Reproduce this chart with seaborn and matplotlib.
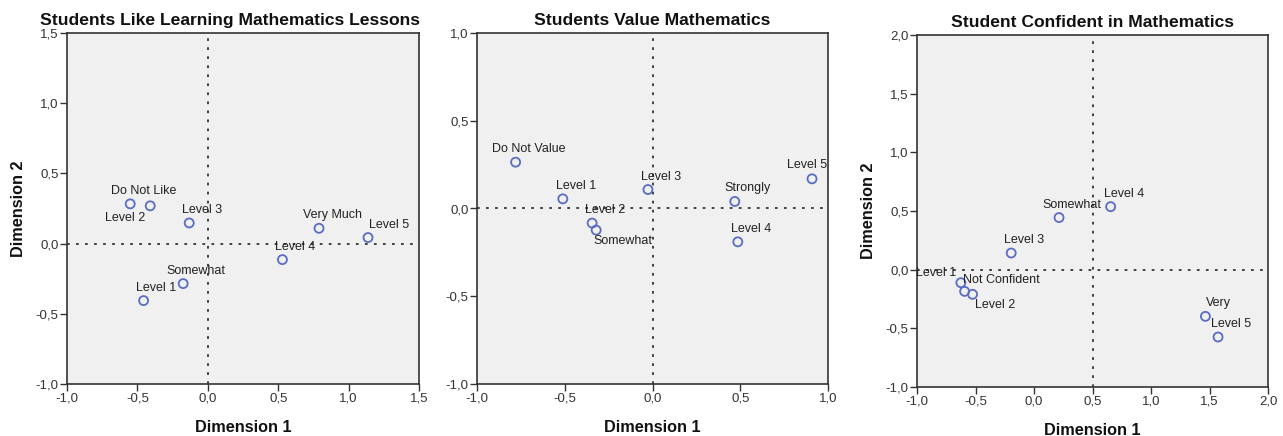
import matplotlib
matplotlib.use("Agg")
import matplotlib.pyplot as plt
import matplotlib.ticker as mticker
import seaborn as sns
import pandas as pd

# ---- data ----
titles = ["Students Like Learning Mathematics Lessons",
          "Students Value Mathematics",
          "Student Confident in Mathematics"]

labels_like = ["Level 2", "Do Not Like", "Level 3", "Somewhat", "Level 1",
               "Level 4", "Very Much", "Level 5"]
dim1_like = [-0.551, -0.409, -0.132, -0.175, -0.456, 0.530, 0.790, 1.138]
dim2_like = [0.283, 0.269, 0.147, -0.285, -0.406, -0.114, 0.109, 0.043]

labels_value = ["Do Not Value", "Level 1", "Level 3", "Level 2", "Somewhat",
                "Strongly", "Level 4", "Level 5"]
dim1_value = [-0.780, -0.511, -0.026, -0.344, -0.321, 0.469, 0.486, 0.909]
dim2_value = [0.264, 0.055, 0.108, -0.083, -0.123, 0.040, -0.190, 0.169]

labels_conf = ["Level 1", "Not Confident", "Level 2", "Level 3", "Somewhat",
               "Level 4", "Very", "Level 5"]
dim1_conf = [-0.625, -0.593, -0.525, -0.195, 0.214, 0.655, 1.465, 1.573]
dim2_conf = [-0.111, -0.185, -0.210, 0.142, 0.444, 0.537, -0.398, -0.574]

xlims = [(-1.0, 1.5), (-1.0, 1.0), (-1.0, 2.0)]
ylims = [(-1.0, 1.5), (-1.0, 1.0), (-1.0, 2.0)]
ref_x = [0.0, 0.0, 0.5]
ref_y = [0.0, 0.0, 0.0]

# ---- style: label offsets in pixels (dx right, dy up) ----
default_off = (13, 13)
special_off = [
    {"Level 2": (-5, -14), "Do Not Like": (-7, 15), "Level 5": (21, 13)},
    {"Somewhat": (27, -11), "Level 5": (-5, 14)},
    {"Level 1": (-25, 10), "Not Confident": (37, 11), "Level 2": (23, -11)},
]
title_x = [0.463, 0.5, 0.5]

sns.set_theme(style="white")
plt.rcParams["font.family"] = ["Liberation Sans", "DejaVu Sans"]

W, H = 1283, 436
fig = plt.figure(figsize=(W / 100, H / 100), dpi=100)
fig.patch.set_facecolor("white")

boxes = [(67, 33, 419, 384), (477, 33, 828, 384), (917, 35, 1268, 387)]
datasets = [(labels_like, dim1_like, dim2_like),
            (labels_value, dim1_value, dim2_value),
            (labels_conf, dim1_conf, dim2_conf)]

px2pt = 72 / 100

for i, ((l, t, r, b), (labs, xs, ys)) in enumerate(zip(boxes, datasets)):
    ax = fig.add_axes([l / W, (H - b) / H, (r - l) / W, (b - t) / H])
    ax.set_facecolor("#f0f0f0")
    df = pd.DataFrame({"Dimension 1": xs, "Dimension 2": ys, "label": labs})
    ax.axvline(ref_x[i], color="#333333", lw=1.3, ls=(0, (1.5, 3.5)), zorder=1)
    ax.axhline(ref_y[i], color="#333333", lw=1.3, ls=(0, (1.5, 3.5)), zorder=1)
    sns.scatterplot(data=df, x="Dimension 1", y="Dimension 2", ax=ax,
                    marker="o", s=42, facecolors="none",
                    edgecolor="#5a6cc4", linewidth=1.3, zorder=3)
    for lab, x, y in zip(labs, xs, ys):
        dx, dy = special_off[i].get(lab, default_off)
        ax.annotate(lab, (x, y), xytext=(dx * px2pt, dy * px2pt),
                    textcoords="offset points", ha="center", va="center",
                    fontsize=9, color="#222222", zorder=4)
    ax.set_xlim(*xlims[i])
    ax.set_ylim(*ylims[i])
    ax.xaxis.set_major_locator(mticker.MultipleLocator(0.5))
    ax.yaxis.set_major_locator(mticker.MultipleLocator(0.5))
    fmt = mticker.FuncFormatter(lambda v, p: f"{v:.1f}".replace(".", ","))
    ax.xaxis.set_major_formatter(fmt)
    ax.yaxis.set_major_formatter(fmt)
    ax.tick_params(axis="both", direction="out", length=5, width=1,
                   color="#333333", labelsize=9.5, labelcolor="#333333", pad=1,
                   bottom=True, left=True)
    for s in ax.spines.values():
        s.set_color("#333333")
        s.set_linewidth(1.2)
    ax.set_title(titles[i], fontsize=12.6, fontweight="bold", pad=6,
                 color="#111111", x=title_x[i])
    ax.set_xlabel("Dimension 1", fontsize=11.7, fontweight="bold", labelpad=11,
                  color="#111111")
    if i == 1:
        ax.set_ylabel("")
    else:
        ax.set_ylabel("Dimension 2", fontsize=11.7, fontweight="bold",
                      labelpad=7, color="#111111")

fig.savefig("out.png", dpi=100)
